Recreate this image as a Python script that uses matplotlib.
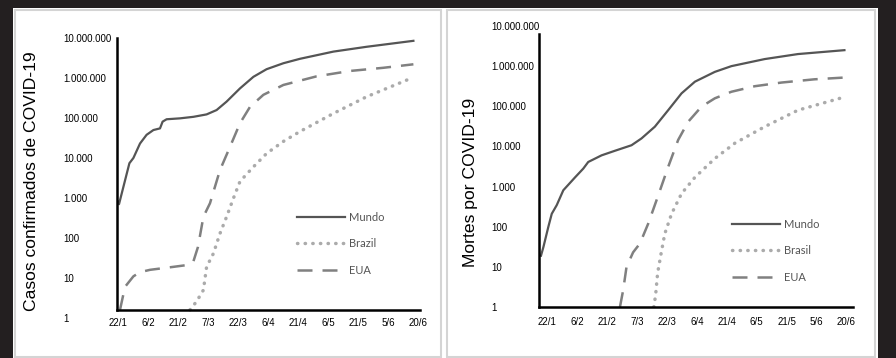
import matplotlib
matplotlib.use("Agg")
import matplotlib.pyplot as plt
from matplotlib.patches import Rectangle
from matplotlib.ticker import FixedLocator, NullLocator

# dias contados a partir de 22/1
tick_labels = ["22/1", "6/2", "21/2", "7/3", "22/3", "6/4", "21/4", "6/5", "21/5", "5/6", "20/6"]
tick_days = [0, 15, 30, 45, 60, 75, 90, 105, 120, 135, 150]
y_ticks = [1, 10, 100, 1000, 10000, 100000, 1000000, 10000000]
y_labels = ["1", "10", "100", "1.000", "10.000", "100.000", "1.000.000", "10.000.000"]

# casos confirmados
casos_mundo_d = [0, 0.5, 2.7, 5.7, 7.7, 11, 14.3, 17.7, 21, 22.3, 24.3, 31, 37.7, 44.3, 49.3, 54.3, 61,
                 67.7, 74.3, 82.7, 91, 107.7, 124.3, 147.7]
casos_mundo = [810, 700, 1900, 7400, 10000, 23000, 38000, 50000, 55000, 81000, 93000, 98000, 107000,
               123000, 158000, 257000, 550000, 1070000, 1660000, 2340000, 3020000, 4570000, 6030000, 8500000]
casos_eua_d = [1, 3.5, 7.7, 11, 16, 27.7, 34.3, 37.7, 40, 42.7, 46, 51, 56, 61, 66, 72.7, 82.7, 99.3,
               116, 132.7, 147.7]
casos_eua = [1.6, 6, 11, 14, 16, 19, 21, 26, 60, 340, 740, 5000, 19000, 74000, 190000, 380000, 670000,
             1100000, 1500000, 1800000, 2200000]
casos_br_d = [36, 39.3, 42.7, 44.3, 47.7, 51, 54.3, 57.7, 61, 67.7, 74.3, 82.7, 91, 107.7, 124.3, 147.7]
casos_br = [1.6, 2.6, 5, 19, 41, 130, 340, 980, 2600, 6000, 13000, 26000, 46000, 130000, 340000, 1040000]

# mortes
mortes_mundo_d = [-3.2, -2, 0.5, 2.2, 4.7, 8, 13.9, 18, 20.5, 27.2, 33.9, 42.2, 47.2, 53.9, 60.6, 67.3,
                  74, 84, 92.3, 109, 125.7, 149]
mortes_mundo = [19, 31, 100, 210, 345, 810, 1700, 2800, 4100, 6000, 7800, 10700, 15800, 31000, 80000,
                210000, 410000, 720000, 1000000, 1500000, 2000000, 2500000]
mortes_eua_d = [36.4, 38, 39.7, 43, 46.4, 50.6, 55.6, 60.6, 65.6, 70.6, 77.3, 84, 92.3, 104, 117.4, 134, 149]
mortes_eua = [1, 2.6, 10, 23, 38, 120, 600, 3100, 14500, 41000, 98000, 158000, 230000, 316000, 390000,
              470000, 520000]
mortes_br_d = [53.4, 54.3, 55.3, 57, 58.9, 62.3, 67.3, 74, 84, 94, 109, 125.7, 149]
mortes_br = [1, 2, 7, 21, 67, 210, 670, 1700, 5000, 12000, 31000, 80000, 170000]

narrow = ["Liberation Sans Narrow", "Liberation Sans", "DejaVu Sans"]

fig = plt.figure(figsize=(8.96, 3.58), dpi=100, facecolor="#231f20")
W, H = 896, 358

def px(x0, y0, x1, y1):
    return [x0 / W, 1 - y1 / H, (x1 - x0) / W, (y1 - y0) / H]

# fundo branco e molduras
fig.patches.append(Rectangle((13 / W, 0), (878 - 13) / W, 1 - 8 / H, transform=fig.transFigure,
                             facecolor="white", edgecolor="none", zorder=-10))
for x0, x1 in [(15, 441), (447, 875)]:
    fig.patches.append(Rectangle((x0 / W, 1 - 357 / H), (x1 - x0) / W, (357 - 10) / H,
                                 transform=fig.transFigure, facecolor="none",
                                 edgecolor="#d4d4d4", lw=1.5, zorder=-9))


def panel(rect, xlim, ylabel, data, names, ypad, xpad, ylab_xy, leg_xy, spine_pos=None, top=None):
    ax = fig.add_axes(rect)
    ax.set_zorder(2)
    ax.set_facecolor("none")
    for s in ["top", "right"]:
        ax.spines[s].set_visible(False)
    ax.spines["left"].set_linewidth(1.8)
    ax.spines["bottom"].set_linewidth(1.8)
    if spine_pos:
        ax.spines["bottom"].set_position(("data", spine_pos))
    styles = [dict(color="#555555", lw=1.6, ls="-"),
              dict(color="#ababab", lw=2.5, ls=(0, (0.1, 2.1)), dash_capstyle="round"),
              dict(color="#808080", lw=1.8, ls=(0, (6, 4)))]
    for (xs, ys), nm, st in zip(data, names, styles):
        ax.plot(xs, ys, label=nm, **st)
    ax.set_yscale("log")
    ax.set_ylim(1, 1e7)
    ax.set_xlim(*xlim)
    ax.yaxis.set_major_locator(FixedLocator(y_ticks))
    ax.yaxis.set_minor_locator(NullLocator())
    ax.set_yticklabels(y_labels, family=narrow, fontsize=7, ha="left")
    ax.set_xticks(tick_days)
    ax.set_xticklabels(tick_labels, family=narrow, fontsize=7)
    ax.tick_params(axis="y", length=0, pad=ypad)
    ax.tick_params(axis="x", length=0, pad=xpad)
    if spine_pos:
        ax.spines["left"].set_bounds(spine_pos, 1e7)
    if top:
        ax.spines["left"].set_bounds(1, top)
    fig.text(ylab_xy[0] / W, 1 - ylab_xy[1] / H, ylabel, rotation=90, ha="center", va="center",
             family=narrow, fontsize=12.6)
    ax.legend(loc="upper left", bbox_to_anchor=(leg_xy[0] / W, 1 - leg_xy[1] / H),
              bbox_transform=fig.transFigure, frameon=False, handlelength=4.3, labelspacing=1.38,
              handletextpad=0.35, prop={"family": ["Lato", "DejaVu Sans"], "size": 8},
              labelcolor="#555555")
    return ax


panel(px(117, 38, 420, 318), (-0.5, 151), "Casos confirmados de COVID-19",
      [(casos_mundo_d, casos_mundo), (casos_br_d, casos_br), (casos_eua_d, casos_eua)],
      ["Mundo", "Brazil", "EUA"], 39, 6, (32, 181), (287, 202), spine_pos=1.58)

panel(px(539, 26, 853, 307), (-4.2, 153.3), "Mortes por COVID-19",
      [(mortes_mundo_d, mortes_mundo), (mortes_br_d, mortes_br), (mortes_eua_d, mortes_eua)],
      ["Mundo", "Brasil", "EUA"], 34.6, 7, (470, 182), (722, 209), top=10 ** 6.8)

fig.savefig("out.png", dpi=100, facecolor=fig.get_facecolor())
